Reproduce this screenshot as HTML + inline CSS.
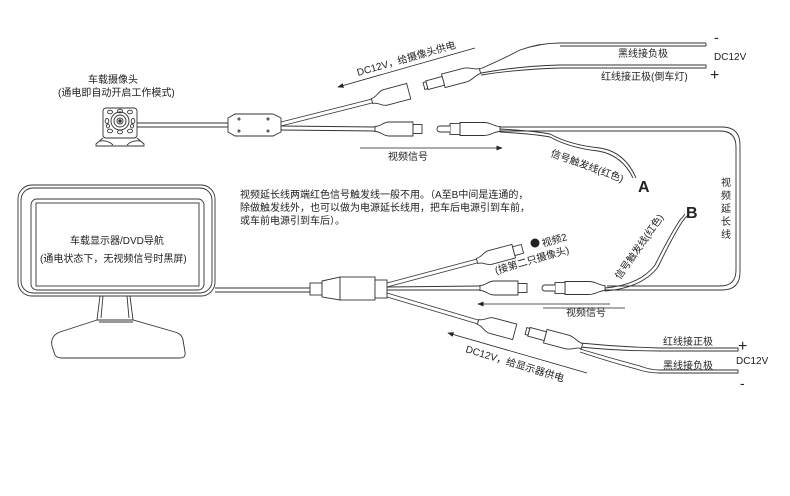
<!DOCTYPE html>
<html><head><meta charset="utf-8"><style>
html,body{margin:0;padding:0;background:#fff;}
svg{display:block;font-family:"Liberation Sans","Noto Sans CJK SC",sans-serif;}
text{fill:#222;}
</style></head><body>
<svg width="790" height="496" viewBox="0 0 790 496" xmlns="http://www.w3.org/2000/svg">
<defs>
<marker id="ar" markerWidth="8" markerHeight="6" refX="7" refY="3" orient="auto"><path d="M0,0 L8,3 L0,6 z" fill="#222"/></marker>
<g id="fem" fill="#fff" stroke="#333" stroke-width="0.9">
<path d="M0,-2.5 C6,-2.5 8,-7 14,-7 L38,-7 L38,7 L14,7 C8,7 6,2.5 0,2.5 z"/>
<rect x="38" y="-4.5" width="9" height="9"/>
</g>
<g id="femdc" fill="#fff" stroke="#333" stroke-width="0.9">
<path d="M0,-2.5 C6,-2.5 8,-8 14,-8 L38,-8 L38,8 L14,8 C8,8 6,2.5 0,2.5 z"/>
</g>
<g id="male" fill="#fff" stroke="#333" stroke-width="0.9">
<path d="M0,-2.5 C-6,-2.5 -9,-6.5 -16,-6.5 L-40,-6.5 L-40,6.5 L-16,6.5 C-9,6.5 -6,2.5 0,2.5 z"/>
<rect x="-50" y="-5.5" width="10" height="11"/>
<path d="M-50,-3 L-60,-3 A3,3 0 0 0 -60,3 L-50,3"/>
</g>
<g id="maledc" fill="#fff" stroke="#333" stroke-width="0.9">
<path d="M0,-2.5 C-6,-2.5 -9,-7 -16,-7 L-38,-7 L-38,7 L-16,7 C-9,7 -6,2.5 0,2.5 z"/>
<rect x="-55" y="-4.5" width="17" height="9"/>
<rect x="-58" y="-3.5" width="3" height="7"/>
</g>
</defs>

<g fill="none" stroke="#333" stroke-width="0.9">
<rect x="18" y="185" width="197" height="111" rx="14"/>
<rect x="21" y="188" width="191" height="105" rx="12"/>
<rect x="31" y="199" width="173" height="91" rx="6"/>
<rect x="36" y="203" width="163" height="83"/>
<path d="M100,296 L97,320 M130,296 L133,320 M103,296 L101,318 M127,296 L129,318"/>
<path d="M97,320 L60,332 Q50,336 52,346 L55,355 Q57,358 62,358 L180,358 Q186,358 185,352 L183,340 Q182,334 175,332 L133,320 Z" fill="#fff"/>
<path d="M99,322 L133,322"/>
<path d="M215,288 L310,288 M215,292 L310,292"/>

<rect x="103" y="108" width="34" height="30" rx="3" fill="#fff"/>
<circle cx="120" cy="121" r="9"/><circle cx="120" cy="121" r="6"/><circle cx="120" cy="121" r="3"/>
<circle cx="120" cy="121" r="1.3" fill="#333"/>
<ellipse cx="110" cy="112" rx="2.5" ry="1.8"/><ellipse cx="120" cy="111" rx="2.5" ry="1.8"/><ellipse cx="130" cy="112" rx="2.5" ry="1.8"/>
<ellipse cx="107" cy="121" rx="1.8" ry="2.5"/><ellipse cx="133" cy="121" rx="1.8" ry="2.5"/>
<ellipse cx="110" cy="131" rx="2.5" ry="1.8"/><ellipse cx="120" cy="132" rx="2.5" ry="1.8"/><ellipse cx="130" cy="131" rx="2.5" ry="1.8"/>
<ellipse cx="108" cy="126" rx="1.5" ry="2"/><ellipse cx="132" cy="126" rx="1.5" ry="2"/>
<path d="M103,138 L96,144 L96,146 L144,146 L144,144 L137,138"/>
<path d="M100,141 Q108,140 113,145 M140,141 Q132,140 127,145"/>
<path d="M137,123 L228,123 M137,127 L228,127"/>
<path d="M228,118 L235,114 L273,114 L281,118 L281,132 L273,136 L235,136 L228,132 Z" fill="#fff"/>
<circle cx="239" cy="119" r="1"/><circle cx="239" cy="131" r="1"/><circle cx="268" cy="119" r="1"/><circle cx="268" cy="131" r="1"/>
<path d="M281,122 L372,99 M281,126 L372,103"/>
<path d="M281,126 L375,127 M281,130 L375,131"/>
</g>
<use href="#femdc" transform="translate(372,101) rotate(-15)"/>
<use href="#fem" transform="translate(375,129)"/>
<use href="#male" transform="translate(500,129)"/>
<use href="#maledc" transform="translate(480,71) rotate(-15)"/>

<g fill="none" stroke="#333" stroke-width="0.9">
<path d="M480,69 Q505,58 520,50 Q540,43 560,43 L706,43 M706,43 L706,46 M560,46 L706,46"/>
<path d="M481,73 Q520,66 560,65 L706,65 L706,68 L560,68 Q520,69 481,75"/>
<path d="M500,127 L722,127 Q740,127 740,145 L740,272 Q740,290 722,290 L605,290"/>
<path d="M500,131 L720,131 Q736,131 736,147 L736,270 Q736,286 720,286 L607,286"/>
<path d="M500,129 Q535,131 550,134 Q570,145 600,148 Q625,152 636,178"/>
<path d="M500,132 Q535,134 550,137 Q570,148 598,151 Q622,155 633,178"/>
<path d="M605,288 Q640,285 655,265 Q670,235 680,220 Q683,217 685,214"/>
<path d="M605,291 Q642,288 658,267 Q672,238 682,222 Q685,218 688,215"/>

<rect x="310" y="283" width="12" height="12" fill="#fff"/>
<path d="M322,281 L340,277 L340,300 L322,297 Z" fill="#fff"/>
<rect x="340" y="277" width="35" height="23" fill="#fff"/>
<rect x="375" y="280" width="12" height="18" fill="#fff"/>
<path d="M387,283 L477,259 M387,287 L477,263"/>
<path d="M387,287 L480,286 M387,290 L480,290"/>
<path d="M387,293 L478,320 M387,297 L478,324"/>
<path d="M580,343 Q620,347 660,348 L738,348 L738,351 L660,351 Q620,351 580,347"/>
<path d="M580,349 Q610,358 640,366 Q650,370 660,370 L738,370 L738,373 L660,373 Q648,373 636,369 Q610,362 580,352"/>
</g>
<use href="#fem" transform="translate(477,261) rotate(-15)"/>
<use href="#fem" transform="translate(480,288)"/>
<use href="#femdc" transform="translate(478,322) rotate(15)"/>
<use href="#maledc" transform="translate(582,346) rotate(15)"/>
<use href="#male" transform="translate(605,288)"/>

<g stroke="#222" stroke-width="0.8" fill="none">
<path d="M475,48 L338,87" marker-end="url(#ar)"/>
<path d="M360,148 L502,148" marker-end="url(#ar)"/>
<path d="M610,304 L478,304" marker-end="url(#ar)"/>
<path d="M587,373 L448,333" marker-end="url(#ar)"/>
<path d="M543,308 L625,308"/>
</g>
<circle cx="535" cy="243" r="4.5" fill="#222"/>

<g font-size="10">
<text x="88" y="83">车载摄像头</text>
<text x="58" y="96">(通电即自动开启工作模式)</text>
<text transform="translate(358,76) rotate(-16)">DC12V，给摄像头供电</text>
<text x="618" y="57">黑线接负极</text>
<text x="601" y="80">红线接正极(倒车灯)</text>
<text x="714" y="60">DC12V</text>
<text x="388" y="160">视频信号</text>
<text transform="translate(550,156) rotate(20)">信号触发线(红色)</text>
<text x="240" y="198">视频延长线两端红色信号触发线一般不用。（A至B中间是连通的，</text>
<text x="240" y="211">除做触发线外，也可以做为电源延长线用，把车后电源引到车前，</text>
<text x="240" y="224">或车前电源引到车后）。</text>
<text x="70" y="244">车载显示器/DVD导航</text>
<text x="40" y="262">(通电状态下，无视频信号时黑屏)</text>
<text transform="translate(543,247) rotate(-16)">视频2</text>
<text transform="translate(496,274) rotate(-16)">(接第二只摄像头)</text>
<text transform="translate(620,280) rotate(-55)">信号触发线(红色)</text>
<text x="566" y="316">视频信号</text>
<text x="663" y="345">红线接正极</text>
<text x="663" y="369">黑线接负极</text>
<text x="736" y="364">DC12V</text>
<text transform="translate(465,352) rotate(17)">DC12V，给显示器供电</text>
</g>
<g font-size="10">
<text x="721" y="186">视</text><text x="721" y="199">频</text><text x="721" y="212">延</text><text x="721" y="225">长</text><text x="721" y="238">线</text>
</g>
<text x="638" y="192" font-size="16" font-weight="bold">A</text>
<text x="686" y="218" font-size="16" font-weight="bold">B</text>
<text x="714" y="42" font-size="14">-</text>
<text x="710" y="80" font-size="16">+</text>
<text x="738" y="351" font-size="16">+</text>
<text x="740" y="388" font-size="14">-</text>
</svg>
</body></html>
